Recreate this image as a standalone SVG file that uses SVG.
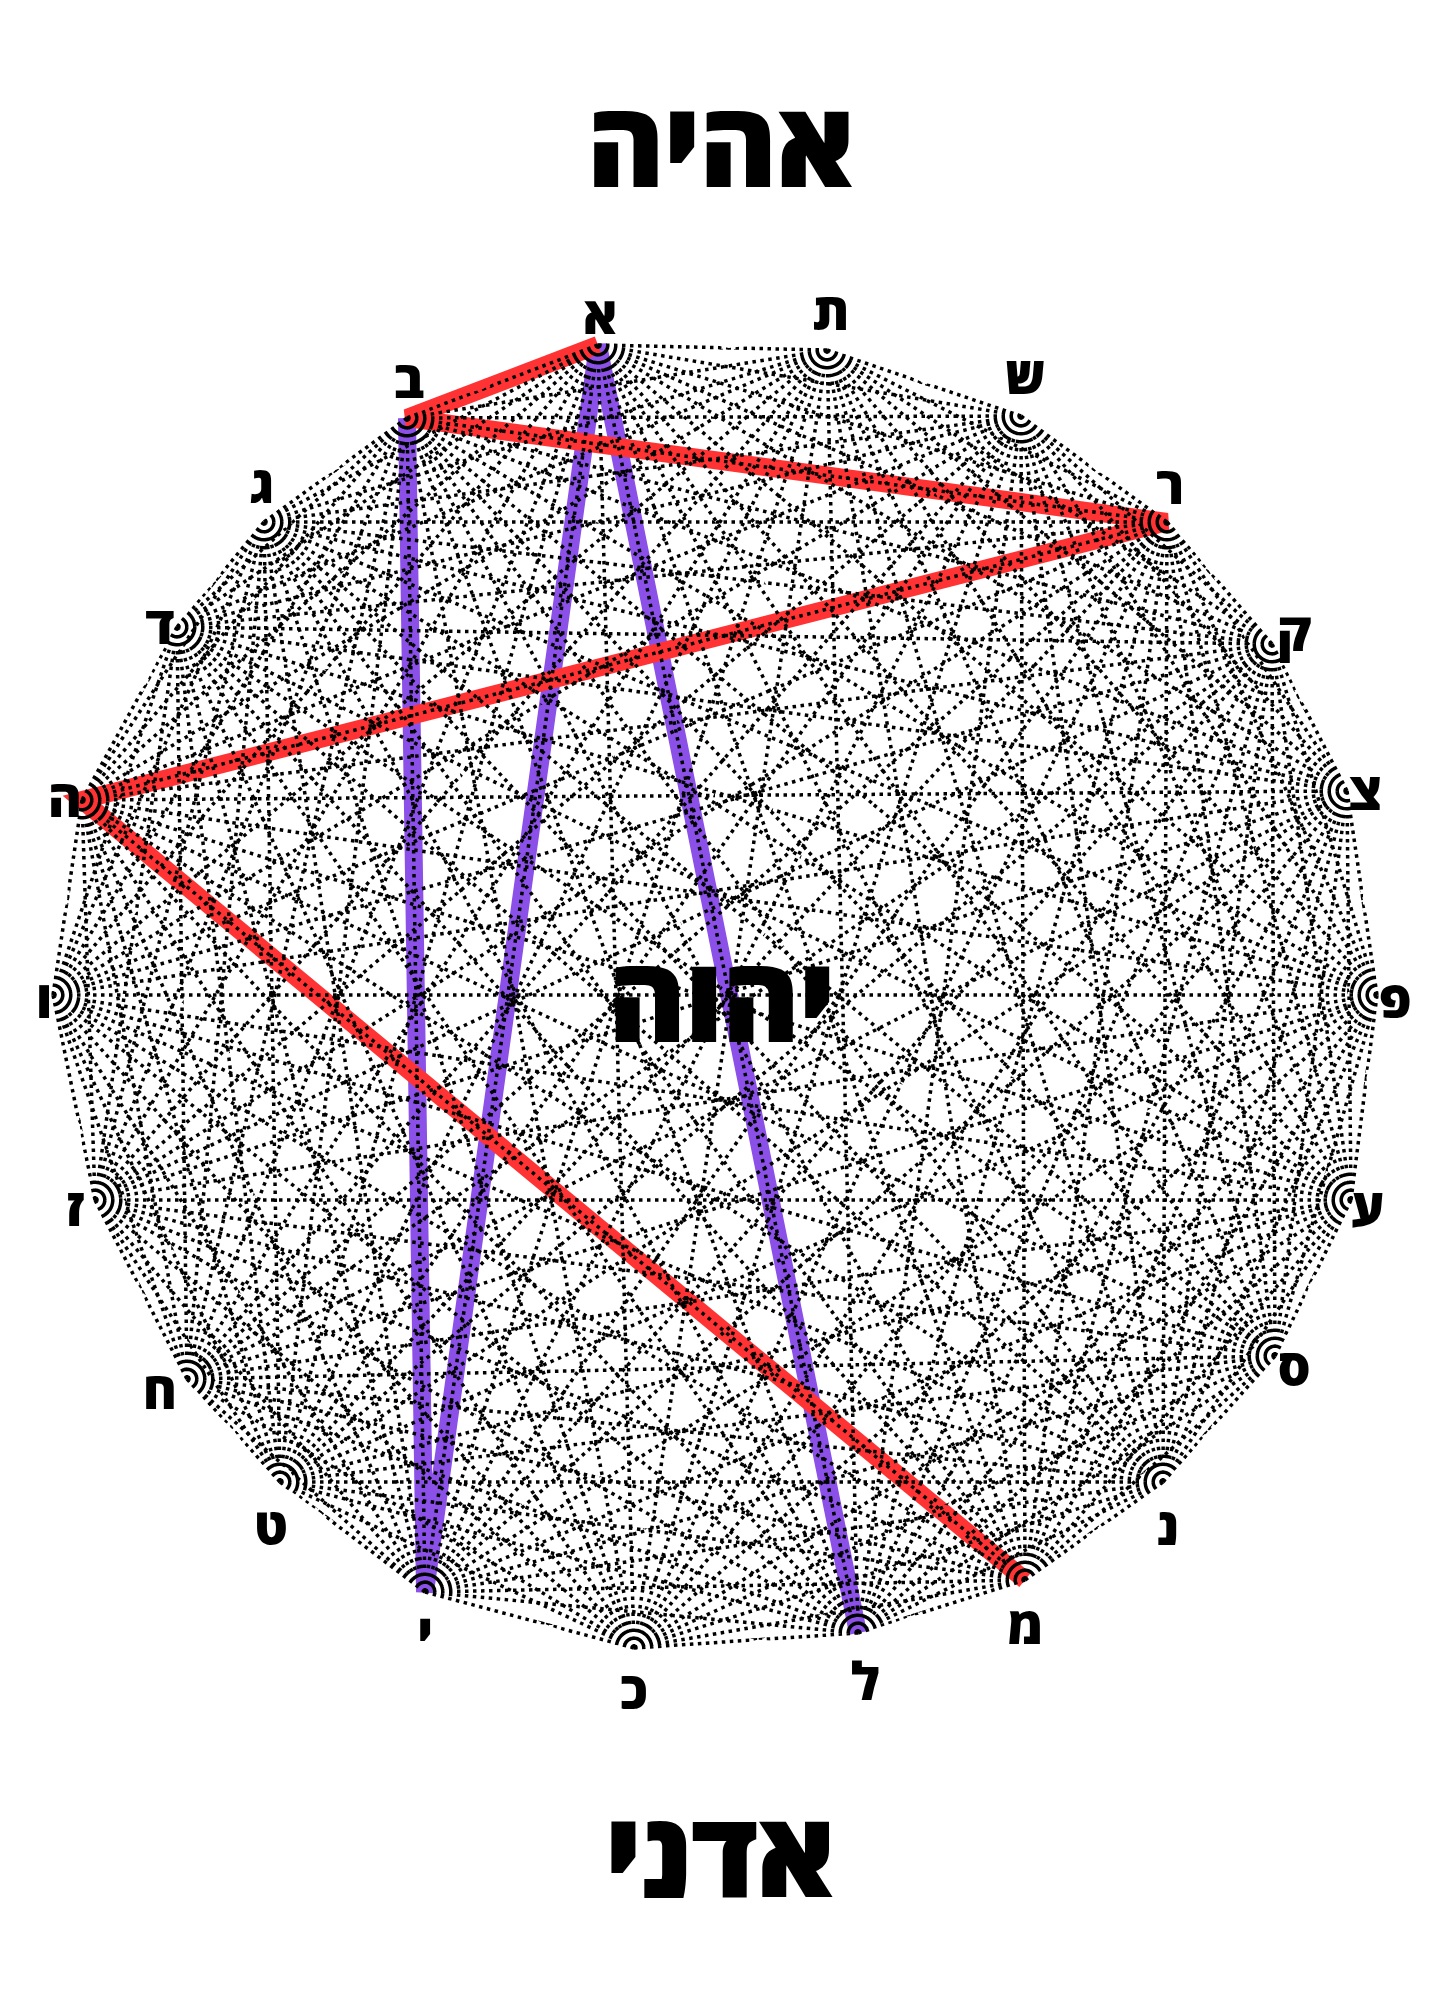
<svg xmlns="http://www.w3.org/2000/svg" width="1444" height="1999" viewBox="0 0 1444 1999">
<style>
.d{fill:none;stroke:#000;stroke-width:3.5;stroke-dasharray:3.5 4.5}
.hl{fill:none;stroke-width:18;stroke-linejoin:miter}
.lab{font-family:"Open Sans","DejaVu Sans",sans-serif;font-weight:800;font-size:52px;text-anchor:middle;fill:#000}
.big{font-size:116px;stroke:#000;stroke-width:2}
</style>
<defs>
<clipPath id="c0"><circle cx="656.5" cy="670" r="330.2"/><circle cx="598" cy="345" r="14"/></clipPath>
<clipPath id="c1"><circle cx="561" cy="706.5" r="327"/><circle cx="407" cy="418" r="14"/></clipPath>
<clipPath id="c2"><circle cx="489.5" cy="758.5" r="326.8"/><circle cx="264" cy="522" r="14"/></clipPath>
<clipPath id="c3"><circle cx="446" cy="811" r="325.9"/><circle cx="177" cy="627" r="14"/></clipPath>
<clipPath id="c4"><circle cx="398.5" cy="897.5" r="331.2"/><circle cx="82" cy="800" r="14"/></clipPath>
<clipPath id="c5"><circle cx="384" cy="995" r="331"/><circle cx="53" cy="995" r="14"/></clipPath>
<clipPath id="c6"><circle cx="405" cy="1097.5" r="326.5"/><circle cx="95" cy="1200" r="14"/></clipPath>
<clipPath id="c7"><circle cx="451" cy="1187" r="326.4"/><circle cx="187" cy="1379" r="14"/></clipPath>
<clipPath id="c8"><circle cx="497.5" cy="1238.5" r="326.5"/><circle cx="280" cy="1482" r="14"/></clipPath>
<clipPath id="c9"><circle cx="570" cy="1293.5" r="331.9"/><circle cx="425" cy="1592" r="14"/></clipPath>
<clipPath id="c10"><circle cx="674.5" cy="1321.5" r="329"/><circle cx="634" cy="1648" r="14"/></clipPath>
<clipPath id="c11"><circle cx="786.5" cy="1314" r="326.9"/><circle cx="858" cy="1633" r="14"/></clipPath>
<clipPath id="c12"><circle cx="870" cy="1287.5" r="331"/><circle cx="1025" cy="1580" r="14"/></clipPath>
<clipPath id="c13"><circle cx="939" cy="1238.5" r="330.9"/><circle cx="1163" cy="1482" r="14"/></clipPath>
<clipPath id="c14"><circle cx="995" cy="1175.5" r="333.1"/><circle cx="1275" cy="1356" r="14"/></clipPath>
<clipPath id="c15"><circle cx="1033" cy="1097.5" r="334.1"/><circle cx="1351" cy="1200" r="14"/></clipPath>
<clipPath id="c16"><circle cx="1046" cy="995" r="331"/><circle cx="1377" cy="995" r="14"/></clipPath>
<clipPath id="c17"><circle cx="1031" cy="893" r="332.1"/><circle cx="1347" cy="791" r="14"/></clipPath>
<clipPath id="c18"><circle cx="993.5" cy="819.5" r="329.2"/><circle cx="1272" cy="644" r="14"/></clipPath>
<clipPath id="c19"><circle cx="941" cy="758.5" r="327.1"/><circle cx="1167" cy="522" r="14"/></clipPath>
<clipPath id="c20"><circle cx="868" cy="705.5" r="327.4"/><circle cx="1021" cy="416" r="14"/></clipPath>
<clipPath id="c21"><circle cx="771" cy="672.5" r="327.3"/><circle cx="827" cy="350" r="14"/></clipPath>
</defs>
<rect width="1444" height="1999" fill="#fff"/>
<g id="connectors">
<polyline class="hl" stroke="#8B50E8" points="407,418 425,1592 598,345 858,1633"/>
<polyline class="hl" stroke="#FF3333" points="598,345 407,418 1167,522 82,800 1025,1580"/>
<path class="d" clip-path="url(#c0)" d="M598 345L407 418M598 345L264 522M598 345L177 627M598 345L82 800M598 345L53 995M598 345L95 1200M598 345L187 1379M598 345L280 1482M598 345L425 1592M598 345L634 1648M598 345L858 1633M598 345L1025 1580M598 345L1163 1482M598 345L1275 1356M598 345L1351 1200M598 345L1377 995M598 345L1347 791M598 345L1272 644M598 345L1167 522M598 345L1021 416M598 345L827 350"/>
<path class="d" clip-path="url(#c1)" d="M407 418L598 345M407 418L264 522M407 418L177 627M407 418L82 800M407 418L53 995M407 418L95 1200M407 418L187 1379M407 418L280 1482M407 418L425 1592M407 418L634 1648M407 418L858 1633M407 418L1025 1580M407 418L1163 1482M407 418L1275 1356M407 418L1351 1200M407 418L1377 995M407 418L1347 791M407 418L1272 644M407 418L1167 522M407 418L1021 416M407 418L827 350"/>
<path class="d" clip-path="url(#c2)" d="M264 522L598 345M264 522L407 418M264 522L177 627M264 522L82 800M264 522L53 995M264 522L95 1200M264 522L187 1379M264 522L280 1482M264 522L425 1592M264 522L634 1648M264 522L858 1633M264 522L1025 1580M264 522L1163 1482M264 522L1275 1356M264 522L1351 1200M264 522L1377 995M264 522L1347 791M264 522L1272 644M264 522L1167 522M264 522L1021 416M264 522L827 350"/>
<path class="d" clip-path="url(#c3)" d="M177 627L598 345M177 627L407 418M177 627L264 522M177 627L82 800M177 627L53 995M177 627L95 1200M177 627L187 1379M177 627L280 1482M177 627L425 1592M177 627L634 1648M177 627L858 1633M177 627L1025 1580M177 627L1163 1482M177 627L1275 1356M177 627L1351 1200M177 627L1377 995M177 627L1347 791M177 627L1272 644M177 627L1167 522M177 627L1021 416M177 627L827 350"/>
<path class="d" clip-path="url(#c4)" d="M82 800L598 345M82 800L407 418M82 800L264 522M82 800L177 627M82 800L53 995M82 800L95 1200M82 800L187 1379M82 800L280 1482M82 800L425 1592M82 800L634 1648M82 800L858 1633M82 800L1025 1580M82 800L1163 1482M82 800L1275 1356M82 800L1351 1200M82 800L1377 995M82 800L1347 791M82 800L1272 644M82 800L1167 522M82 800L1021 416M82 800L827 350"/>
<path class="d" clip-path="url(#c5)" d="M53 995L598 345M53 995L407 418M53 995L264 522M53 995L177 627M53 995L82 800M53 995L95 1200M53 995L187 1379M53 995L280 1482M53 995L425 1592M53 995L634 1648M53 995L858 1633M53 995L1025 1580M53 995L1163 1482M53 995L1275 1356M53 995L1351 1200M53 995L1377 995M53 995L1347 791M53 995L1272 644M53 995L1167 522M53 995L1021 416M53 995L827 350"/>
<path class="d" clip-path="url(#c6)" d="M95 1200L598 345M95 1200L407 418M95 1200L264 522M95 1200L177 627M95 1200L82 800M95 1200L53 995M95 1200L187 1379M95 1200L280 1482M95 1200L425 1592M95 1200L634 1648M95 1200L858 1633M95 1200L1025 1580M95 1200L1163 1482M95 1200L1275 1356M95 1200L1351 1200M95 1200L1377 995M95 1200L1347 791M95 1200L1272 644M95 1200L1167 522M95 1200L1021 416M95 1200L827 350"/>
<path class="d" clip-path="url(#c7)" d="M187 1379L598 345M187 1379L407 418M187 1379L264 522M187 1379L177 627M187 1379L82 800M187 1379L53 995M187 1379L95 1200M187 1379L280 1482M187 1379L425 1592M187 1379L634 1648M187 1379L858 1633M187 1379L1025 1580M187 1379L1163 1482M187 1379L1275 1356M187 1379L1351 1200M187 1379L1377 995M187 1379L1347 791M187 1379L1272 644M187 1379L1167 522M187 1379L1021 416M187 1379L827 350"/>
<path class="d" clip-path="url(#c8)" d="M280 1482L598 345M280 1482L407 418M280 1482L264 522M280 1482L177 627M280 1482L82 800M280 1482L53 995M280 1482L95 1200M280 1482L187 1379M280 1482L425 1592M280 1482L634 1648M280 1482L858 1633M280 1482L1025 1580M280 1482L1163 1482M280 1482L1275 1356M280 1482L1351 1200M280 1482L1377 995M280 1482L1347 791M280 1482L1272 644M280 1482L1167 522M280 1482L1021 416M280 1482L827 350"/>
<path class="d" clip-path="url(#c9)" d="M425 1592L598 345M425 1592L407 418M425 1592L264 522M425 1592L177 627M425 1592L82 800M425 1592L53 995M425 1592L95 1200M425 1592L187 1379M425 1592L280 1482M425 1592L634 1648M425 1592L858 1633M425 1592L1025 1580M425 1592L1163 1482M425 1592L1275 1356M425 1592L1351 1200M425 1592L1377 995M425 1592L1347 791M425 1592L1272 644M425 1592L1167 522M425 1592L1021 416M425 1592L827 350"/>
<path class="d" clip-path="url(#c10)" d="M634 1648L598 345M634 1648L407 418M634 1648L264 522M634 1648L177 627M634 1648L82 800M634 1648L53 995M634 1648L95 1200M634 1648L187 1379M634 1648L280 1482M634 1648L425 1592M634 1648L858 1633M634 1648L1025 1580M634 1648L1163 1482M634 1648L1275 1356M634 1648L1351 1200M634 1648L1377 995M634 1648L1347 791M634 1648L1272 644M634 1648L1167 522M634 1648L1021 416M634 1648L827 350"/>
<path class="d" clip-path="url(#c11)" d="M858 1633L598 345M858 1633L407 418M858 1633L264 522M858 1633L177 627M858 1633L82 800M858 1633L53 995M858 1633L95 1200M858 1633L187 1379M858 1633L280 1482M858 1633L425 1592M858 1633L634 1648M858 1633L1025 1580M858 1633L1163 1482M858 1633L1275 1356M858 1633L1351 1200M858 1633L1377 995M858 1633L1347 791M858 1633L1272 644M858 1633L1167 522M858 1633L1021 416M858 1633L827 350"/>
<path class="d" clip-path="url(#c12)" d="M1025 1580L598 345M1025 1580L407 418M1025 1580L264 522M1025 1580L177 627M1025 1580L82 800M1025 1580L53 995M1025 1580L95 1200M1025 1580L187 1379M1025 1580L280 1482M1025 1580L425 1592M1025 1580L634 1648M1025 1580L858 1633M1025 1580L1163 1482M1025 1580L1275 1356M1025 1580L1351 1200M1025 1580L1377 995M1025 1580L1347 791M1025 1580L1272 644M1025 1580L1167 522M1025 1580L1021 416M1025 1580L827 350"/>
<path class="d" clip-path="url(#c13)" d="M1163 1482L598 345M1163 1482L407 418M1163 1482L264 522M1163 1482L177 627M1163 1482L82 800M1163 1482L53 995M1163 1482L95 1200M1163 1482L187 1379M1163 1482L280 1482M1163 1482L425 1592M1163 1482L634 1648M1163 1482L858 1633M1163 1482L1025 1580M1163 1482L1275 1356M1163 1482L1351 1200M1163 1482L1377 995M1163 1482L1347 791M1163 1482L1272 644M1163 1482L1167 522M1163 1482L1021 416M1163 1482L827 350"/>
<path class="d" clip-path="url(#c14)" d="M1275 1356L598 345M1275 1356L407 418M1275 1356L264 522M1275 1356L177 627M1275 1356L82 800M1275 1356L53 995M1275 1356L95 1200M1275 1356L187 1379M1275 1356L280 1482M1275 1356L425 1592M1275 1356L634 1648M1275 1356L858 1633M1275 1356L1025 1580M1275 1356L1163 1482M1275 1356L1351 1200M1275 1356L1377 995M1275 1356L1347 791M1275 1356L1272 644M1275 1356L1167 522M1275 1356L1021 416M1275 1356L827 350"/>
<path class="d" clip-path="url(#c15)" d="M1351 1200L598 345M1351 1200L407 418M1351 1200L264 522M1351 1200L177 627M1351 1200L82 800M1351 1200L53 995M1351 1200L95 1200M1351 1200L187 1379M1351 1200L280 1482M1351 1200L425 1592M1351 1200L634 1648M1351 1200L858 1633M1351 1200L1025 1580M1351 1200L1163 1482M1351 1200L1275 1356M1351 1200L1377 995M1351 1200L1347 791M1351 1200L1272 644M1351 1200L1167 522M1351 1200L1021 416M1351 1200L827 350"/>
<path class="d" clip-path="url(#c16)" d="M1377 995L598 345M1377 995L407 418M1377 995L264 522M1377 995L177 627M1377 995L82 800M1377 995L53 995M1377 995L95 1200M1377 995L187 1379M1377 995L280 1482M1377 995L425 1592M1377 995L634 1648M1377 995L858 1633M1377 995L1025 1580M1377 995L1163 1482M1377 995L1275 1356M1377 995L1351 1200M1377 995L1347 791M1377 995L1272 644M1377 995L1167 522M1377 995L1021 416M1377 995L827 350"/>
<path class="d" clip-path="url(#c17)" d="M1347 791L598 345M1347 791L407 418M1347 791L264 522M1347 791L177 627M1347 791L82 800M1347 791L53 995M1347 791L95 1200M1347 791L187 1379M1347 791L280 1482M1347 791L425 1592M1347 791L634 1648M1347 791L858 1633M1347 791L1025 1580M1347 791L1163 1482M1347 791L1275 1356M1347 791L1351 1200M1347 791L1377 995M1347 791L1272 644M1347 791L1167 522M1347 791L1021 416M1347 791L827 350"/>
<path class="d" clip-path="url(#c18)" d="M1272 644L598 345M1272 644L407 418M1272 644L264 522M1272 644L177 627M1272 644L82 800M1272 644L53 995M1272 644L95 1200M1272 644L187 1379M1272 644L280 1482M1272 644L425 1592M1272 644L634 1648M1272 644L858 1633M1272 644L1025 1580M1272 644L1163 1482M1272 644L1275 1356M1272 644L1351 1200M1272 644L1377 995M1272 644L1347 791M1272 644L1167 522M1272 644L1021 416M1272 644L827 350"/>
<path class="d" clip-path="url(#c19)" d="M1167 522L598 345M1167 522L407 418M1167 522L264 522M1167 522L177 627M1167 522L82 800M1167 522L53 995M1167 522L95 1200M1167 522L187 1379M1167 522L280 1482M1167 522L425 1592M1167 522L634 1648M1167 522L858 1633M1167 522L1025 1580M1167 522L1163 1482M1167 522L1275 1356M1167 522L1351 1200M1167 522L1377 995M1167 522L1347 791M1167 522L1272 644M1167 522L1021 416M1167 522L827 350"/>
<path class="d" clip-path="url(#c20)" d="M1021 416L598 345M1021 416L407 418M1021 416L264 522M1021 416L177 627M1021 416L82 800M1021 416L53 995M1021 416L95 1200M1021 416L187 1379M1021 416L280 1482M1021 416L425 1592M1021 416L634 1648M1021 416L858 1633M1021 416L1025 1580M1021 416L1163 1482M1021 416L1275 1356M1021 416L1351 1200M1021 416L1377 995M1021 416L1347 791M1021 416L1272 644M1021 416L1167 522M1021 416L827 350"/>
<path class="d" clip-path="url(#c21)" d="M827 350L598 345M827 350L407 418M827 350L264 522M827 350L177 627M827 350L82 800M827 350L53 995M827 350L95 1200M827 350L187 1379M827 350L280 1482M827 350L425 1592M827 350L634 1648M827 350L858 1633M827 350L1025 1580M827 350L1163 1482M827 350L1275 1356M827 350L1351 1200M827 350L1377 995M827 350L1347 791M827 350L1272 644M827 350L1167 522M827 350L1021 416"/>
</g>
<g id="n-alef"><text class="lab" x="600" y="334">א</text></g>
<g id="n-bet"><text class="lab" x="409" y="398">ב</text></g>
<g id="n-gimel"><text class="lab" x="262" y="503">ג</text></g>
<g id="n-dalet"><text class="lab" x="160" y="644">ד</text></g>
<g id="n-he"><text class="lab" x="65" y="817">ה</text></g>
<g id="n-vav"><text class="lab" x="44" y="1018">ו</text></g>
<g id="n-zayin"><text class="lab" x="75" y="1226">ז</text></g>
<g id="n-het"><text class="lab" x="160" y="1409">ח</text></g>
<g id="n-tet"><text class="lab" x="271" y="1545">ט</text></g>
<g id="n-yod"><text class="lab" x="425" y="1652">י</text></g>
<g id="n-kaf"><text class="lab" x="634" y="1709">כ</text></g>
<g id="n-lamed"><text class="lab" x="865" y="1700">ל</text></g>
<g id="n-mem"><text class="lab" x="1025" y="1644">מ</text></g>
<g id="n-nun"><text class="lab" x="1168" y="1545">נ</text></g>
<g id="n-samekh"><text class="lab" x="1294" y="1386">ס</text></g>
<g id="n-ayin"><text class="lab" x="1368" y="1226">ע</text></g>
<g id="n-pe"><text class="lab" x="1395" y="1018">פ</text></g>
<g id="n-tsadi"><text class="lab" x="1365" y="810">צ</text></g>
<g id="n-qof"><text class="lab" x="1294" y="651">ק</text></g>
<g id="n-resh"><text class="lab" x="1170" y="504">ר</text></g>
<g id="n-shin"><text class="lab" x="1025" y="394">ש</text></g>
<g id="n-tav"><text class="lab" x="831" y="330">ת</text></g>
<g id="title-top"><text class="lab big" x="721" y="186">אהיה</text></g>
<g id="title-center"><text class="lab big" x="722" y="1041">יהוה</text></g>
<g id="title-bottom"><text class="lab big" x="720" y="1896">אדני</text></g>
</svg>
